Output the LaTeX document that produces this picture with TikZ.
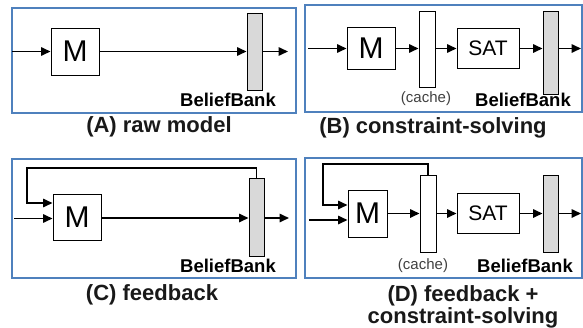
\documentclass[tikz,border=0pt]{standalone}
\usepackage{fontspec}
\setmainfont{Liberation Sans}
\usetikzlibrary{arrows.meta,calc}
\definecolor{frameblue}{RGB}{79,129,189}
\definecolor{bankgray}{RGB}{217,217,217}
\definecolor{cachetext}{RGB}{64,64,64}
\begin{document}
\begin{tikzpicture}[x=1pt,y=-1pt,
  frame/.style={draw=frameblue,line width=1.8pt},
  box/.style={draw=black,line width=1pt,fill=white,inner sep=0pt},
  modelbox/.style={box,font=\fontsize{30}{30}\selectfont},
  satbox/.style={box,font=\fontsize{21}{21}\selectfont,minimum width=62pt,minimum height=40pt},
  bankbar/.style={box,fill=bankgray,minimum width=15pt},
  cachebar/.style={box,fill=white,minimum width=16pt},
  arr/.style={draw=black,line width=1.6pt,-{Triangle[length=9.5pt,width=8.5pt]}},
  banklabel/.style={font=\fontsize{18.5}{18.5}\selectfont\bfseries,inner sep=0pt},
  cachelabel/.style={font=\fontsize{15}{15}\selectfont,text=cachetext,inner sep=0pt},
  caption/.style={font=\fontsize{22}{22}\selectfont\bfseries,align=center,inner sep=0pt,text=black!90}
]
\useasboundingbox (0,0) rectangle (583,327);

% ---------------- Panel A ----------------
\draw[frame] (12,8) rectangle (296,113);
\node[modelbox,minimum width=48pt,minimum height=47pt] (MA) at (75,51.5) {M};
\node[bankbar,minimum height=77pt] (BBA) at (254.5,51.5) {};
\coordinate (inA) at (12,51.5);
\coordinate (outA) at (288,51.5);
\draw[arr] (inA) -- (MA.west);
\draw[arr] (MA.east) -- (BBA.west);
\draw[arr] (BBA.east) -- (outA);
\node[banklabel] (blA) at (228,100) {BeliefBank};
\node[caption] (capA) at (159,127) {(A) raw model};

% ---------------- Panel B ----------------
\draw[frame] (305,5) rectangle (582,112);
\node[modelbox,minimum width=48pt,minimum height=42pt] (MB) at (371,48.5) {M};
\node[cachebar,minimum height=76pt] (CB) at (427,49) {};
\node[satbox] (SB) at (488,48.5) {SAT};
\node[bankbar,minimum height=83pt] (BBB) at (550.5,52.5) {};
\coordinate (inB) at (308,48.5);
\coordinate (outB) at (581,48.5);
\draw[arr] (inB) -- (MB.west);
\draw[arr] (MB.east) -- (MB.east -| CB.west);
\draw[arr] (CB.east |- SB.west) -- (SB.west);
\draw[arr] (SB.east) -- (SB.east -| BBB.west);
\draw[arr] (SB.east -| BBB.east) -- (outB);
\node[cachelabel] (clB) at (426,99) {(cache)};
\node[banklabel] (blB) at (523,100) {BeliefBank};
\node[caption] (capB) at (433,128) {(B) constraint-solving};

% ---------------- Panel C ----------------
\draw[frame] (12,159) rectangle (296,278);
\node[modelbox,minimum width=48pt,minimum height=46pt] (MC) at (77,217) {M};
\node[bankbar,minimum height=78pt] (BBC) at (256.5,217) {};
\coordinate (inC) at (14,218.5);
\coordinate (outC) at (289,218);
\coordinate (fbC) at (27,168);
\draw[arr] (inC) -- (MC.west |- inC);
\draw[arr] (MC.east |- outC) -- (BBC.west |- outC);
\draw[arr] (BBC.east |- outC) -- (outC);
\draw[arr] (BBC.north) |- (fbC) |- ($(MC.west)+(0,-14)$);
\node[banklabel] (blC) at (228,266) {BeliefBank};
\node[caption] (capC) at (152,295) {(C) feedback};

% ---------------- Panel D ----------------
\draw[frame] (305,158) rectangle (582,278);
\node[modelbox,minimum width=39pt,minimum height=47pt] (MD) at (367.5,213.5) {M};
\node[cachebar,minimum height=77pt] (CD) at (428,213.5) {};
\node[satbox] (SD) at (488,213.5) {SAT};
\node[bankbar,minimum height=77pt] (BBD) at (550.5,213.5) {};
\coordinate (inD) at (309,220);
\coordinate (outD) at (581,213.5);
\coordinate (fbD) at (323,164);
\draw[arr] (inD) -- (MD.west |- inD);
\draw[arr] (MD.east) -- (CD.west);
\draw[arr] (CD.east) -- (SD.west);
\draw[arr] (SD.east) -- (BBD.west);
\draw[arr] (BBD.east) -- (outD);
\draw[arr] (CD.north) |- (fbD) |- ($(MD.west)+(0,-8.5)$);
\node[cachelabel] (clD) at (423,266) {(cache)};
\node[banklabel] (blD) at (525,266) {BeliefBank};
\node[caption] (capD) at (463,306.5) {(D) feedback +\\constraint-solving};
\end{tikzpicture}
\end{document}
